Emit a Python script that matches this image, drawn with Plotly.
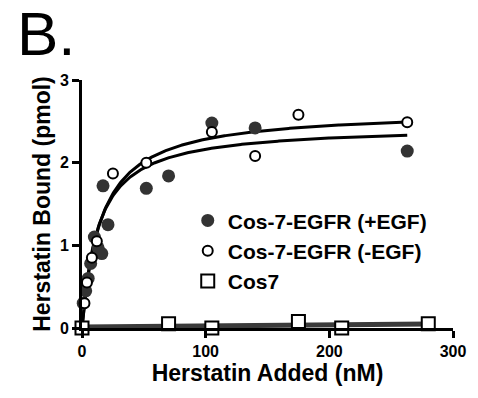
import numpy as np
import plotly.graph_objects as go

# Herstatin binding data (x: nM added, y: pmol bound)
egf_plus_x = [1, 3, 5, 7, 10, 13, 16, 17, 21, 52, 70, 105, 140, 263]
egf_plus_y = [0.30, 0.45, 0.60, 0.78, 1.10, 0.97, 0.90, 1.72, 1.25, 1.69, 1.84, 2.48, 2.42, 2.14]

egf_minus_x = [2, 4, 8, 12, 25, 52, 105, 140, 175, 263]
egf_minus_y = [0.30, 0.55, 0.85, 1.05, 1.87, 2.00, 2.37, 2.08, 2.58, 2.49]

cos7_x = [0, 70, 105, 175, 210, 280]
cos7_y = [0.0, 0.05, 0.0, 0.08, 0.0, 0.05]

# One-site saturation fit parameters (Bmax in pmol, Kd in nM)
fit_plus = {"bmax": 2.45, "kd": 13.3}
fit_minus = {"bmax": 2.64, "kd": 15.6}

x_ticks = [0, 100, 200, 300]
y_ticks = [0, 1, 2, 3]

FONT = "Liberation Sans"
DARK = "#333333"


def one_site(x, p):
    x = np.asarray(x, dtype=float)
    return p["bmax"] * x / (p["kd"] + x)


xs = np.linspace(0, max(egf_plus_x), 300)
cos7_fit = np.polyfit(cos7_x, cos7_y, 1)
cos7_line_x = np.array([min(cos7_x), max(cos7_x)])

fig = go.Figure()

# fitted curves
fig.add_trace(go.Scatter(x=xs, y=one_site(xs, fit_minus), mode="lines",
                         line=dict(color="black", width=3), showlegend=False,
                         hoverinfo="skip", cliponaxis=False))
fig.add_trace(go.Scatter(x=xs, y=one_site(xs, fit_plus), mode="lines",
                         line=dict(color="black", width=3), showlegend=False,
                         hoverinfo="skip", cliponaxis=False))
fig.add_trace(go.Scatter(x=cos7_line_x, y=np.polyval(cos7_fit, cos7_line_x), mode="lines",
                         line=dict(color="#3a3a3a", width=5), showlegend=False,
                         hoverinfo="skip", cliponaxis=False))

# data points
fig.add_trace(go.Scatter(x=egf_plus_x, y=egf_plus_y, mode="markers",
                         name="Cos-7-EGFR (+EGF)",
                         marker=dict(symbol="circle", size=13, color=DARK,
                                     line=dict(color=DARK, width=0)),
                         cliponaxis=False))
fig.add_trace(go.Scatter(x=egf_minus_x, y=egf_minus_y, mode="markers",
                         name="Cos-7-EGFR (-EGF)",
                         marker=dict(symbol="circle", size=10, color="white",
                                     line=dict(color="black", width=2)),
                         cliponaxis=False))
fig.add_trace(go.Scatter(x=cos7_x, y=cos7_y, mode="markers",
                         name="Cos7",
                         marker=dict(symbol="square", size=13, color="white",
                                     line=dict(color="black", width=2)),
                         cliponaxis=False))

axis_common = dict(
    showline=True, linecolor="black", linewidth=3,
    ticks="outside", tickwidth=3, ticklen=7, tickcolor="black",
    showgrid=False, zeroline=False,
    tickfont=dict(family=FONT, size=16, color="black", weight="bold"),
)

fig.update_layout(
    width=478, height=398,
    margin=dict(l=82, r=20, t=80, b=70),
    paper_bgcolor="white", plot_bgcolor="white",
    xaxis=dict(range=[0, 300], tickvals=x_ticks,
               title=dict(text="Herstatin Added (nM)", standoff=3,
                          font=dict(family=FONT, size=23, color="black", weight="bold")),
               **axis_common),
    yaxis=dict(range=[0, 3], tickvals=y_ticks,
               title=dict(text="Herstatin Bound (pmol)", standoff=3,
                          font=dict(family=FONT, size=23, color="black", weight="bold")),
               **axis_common),
    legend=dict(x=0.285, y=0.515, xanchor="left", yanchor="top",
                bgcolor="rgba(0,0,0,0)", tracegroupgap=0,
                font=dict(family=FONT, size=21, color="black", weight="bold"),
                itemsizing="trace"),
    showlegend=True,
    annotations=[dict(text="B.", xref="paper", yref="paper",
                      x=-0.18, y=1.04, xanchor="left", yanchor="bottom",
                      showarrow=False,
                      font=dict(family=FONT, size=62, color="black"))],
)

fig.write_html("out.html")
